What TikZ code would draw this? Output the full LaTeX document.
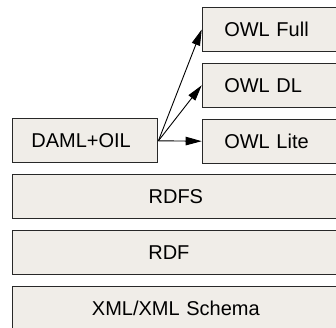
\documentclass[tikz,border=0pt]{standalone}
\usepackage{fontspec}
\setmainfont{Liberation Sans}
\usetikzlibrary{arrows.meta}
\definecolor{layerfill}{RGB}{240,237,232}
\definecolor{layerline}{RGB}{40,40,40}
\tikzset{
  layer/.style={draw=layerline, line width=1.1pt, fill=layerfill,
    rectangle, minimum height=44pt, inner ysep=0pt,
    font=\fontsize{20}{24}\selectfont, anchor=west},
  owlbox/.style={layer, minimum width=140pt, text width=96pt,
    inner xsep=22pt, align=left},
  damlbox/.style={layer, minimum width=145pt, text width=108pt,
    inner xsep=18.5pt, align=left},
  stackbox/.style={layer, minimum width=326pt, text width=300pt,
    inner xsep=13pt, align=center},
  link/.style={line width=0.9pt, black,
    -{Triangle[length=16pt,width=8.5pt]}}
}
\begin{document}
\begin{tikzpicture}[x=1pt,y=1pt]
  \useasboundingbox (0,0) rectangle (336,-327);
  \clip (0,0) rectangle (336,-327);
  % OWL sublanguages
  \node[owlbox] (full) at (201.7,-29.5) {OWL Full};
  \node[owlbox] (dl)   at (201.7,-85.3) {OWL DL};
  \node[owlbox] (lite) at (201.7,-141.2) {OWL Lite};
  % predecessor language
  \node[damlbox] (daml) at (12.3,-140.8) {DAML+OIL};
  % underlying stack
  \node[stackbox] (rdfs) at (12.3,-196.7) {RDFS};
  \node[layer, minimum width=326pt, text width=55pt, inner xsep=135.4pt,
        align=left] (rdf) at (12.3,-252.5) {RDF};
  \node[stackbox] (xml) at (12.3,-308.3) {XML/XML Schema};
  % derivation arrows
  \draw[link] (daml.east) -- (lite.west);
  \draw[link] (daml.east) -- (dl.west);
  \draw[link] (daml.east) -- (full.west);
\end{tikzpicture}
\end{document}
